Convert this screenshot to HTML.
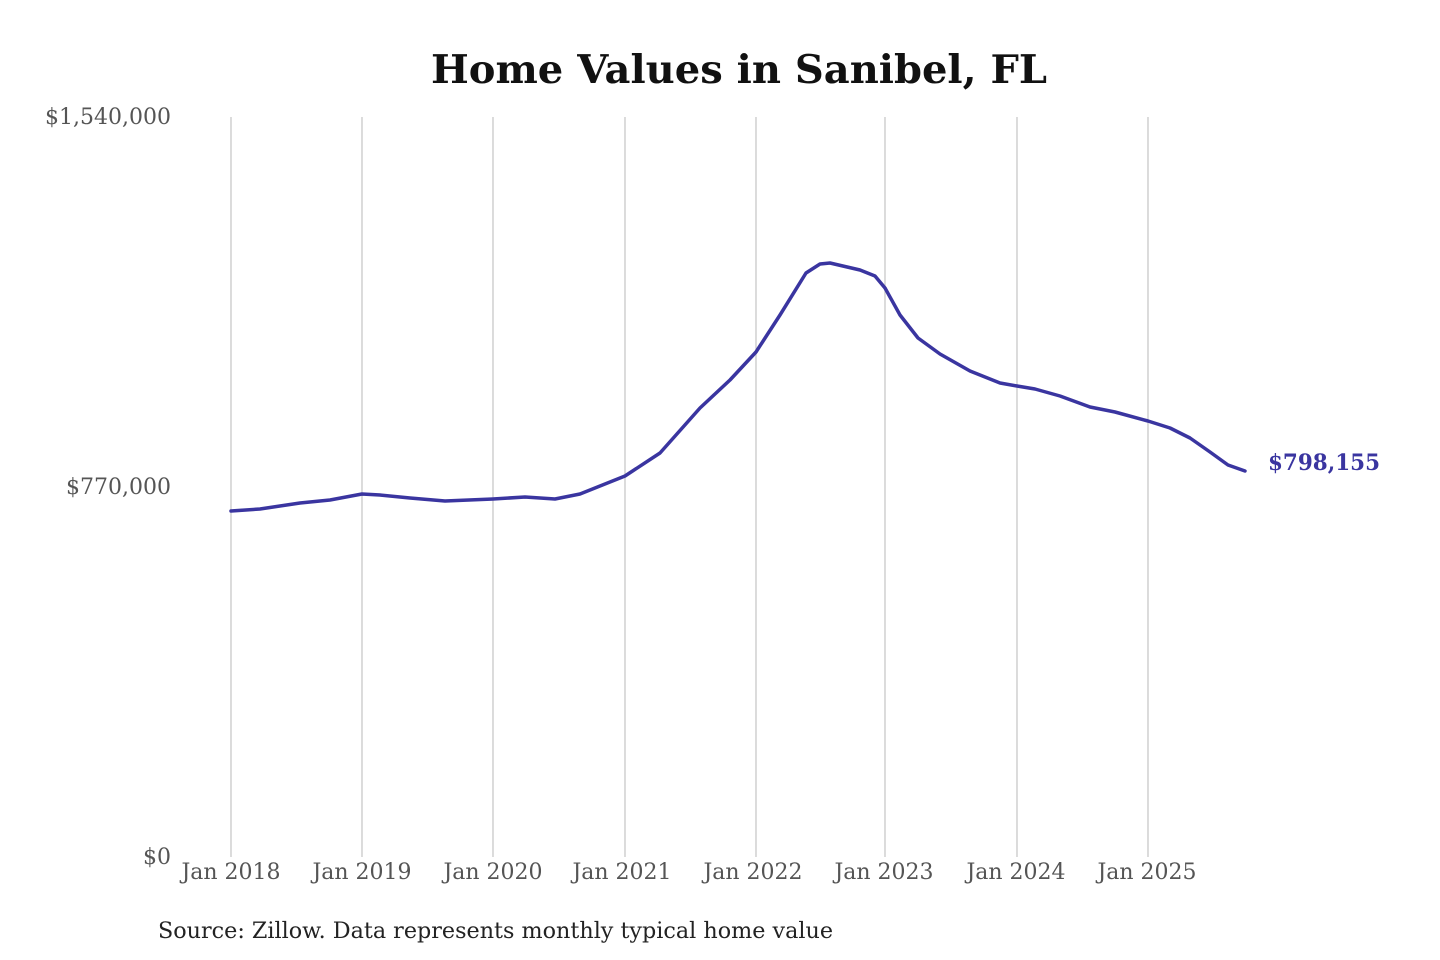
<!DOCTYPE html>
<html><head><meta charset="utf-8"><style>
html,body{margin:0;padding:0;background:#fff;width:1440px;height:960px;overflow:hidden}
</style></head><body>
<svg width="1440" height="960" viewBox="0 0 1440 960" xmlns="http://www.w3.org/2000/svg" font-family="'DejaVu Serif','Liberation Serif',serif">
<text x="431" y="83" font-size="39" font-weight="bold" fill="#111" textLength="616" lengthAdjust="spacingAndGlyphs">Home Values in Sanibel, FL</text>
<g stroke="#c8c8c8" stroke-width="1.3">
<line x1="231" y1="117" x2="231" y2="857"/><line x1="362" y1="117" x2="362" y2="857"/>
<line x1="493" y1="117" x2="493" y2="857"/><line x1="625" y1="117" x2="625" y2="857"/>
<line x1="756" y1="117" x2="756" y2="857"/><line x1="885" y1="117" x2="885" y2="857"/>
<line x1="1017" y1="117" x2="1017" y2="857"/><line x1="1148" y1="117" x2="1148" y2="857"/>
</g>
<g font-size="22" fill="#555" text-anchor="end">
<text x="171" y="124">$1,540,000</text>
<text x="171" y="494">$770,000</text>
<text x="171" y="864">$0</text>
</g>
<g font-size="22" fill="#555" text-anchor="middle">
<text x="231" y="879">Jan 2018</text><text x="362" y="879">Jan 2019</text>
<text x="493" y="879">Jan 2020</text><text x="622" y="879">Jan 2021</text>
<text x="753" y="879">Jan 2022</text><text x="884" y="879">Jan 2023</text>
<text x="1016" y="879">Jan 2024</text><text x="1147" y="879">Jan 2025</text>
</g>
<polyline fill="none" stroke="#3a35a0" stroke-width="3.5" stroke-linejoin="round" stroke-linecap="round" points="231,511 260,509 300,503 330,500 362,494 380,495 410,498 445,501 493,499 525,497 555,499 580,494 625,476 660,453 700,408 730,380 756,352 780,315 806,273 820,264 830,263 860,270 875,276 885,288 900,315 918,338 940,354 970,371 1000,383 1017,386 1035,389 1060,396 1090,407 1115,412 1148,421 1170,428 1190,438 1210,452 1228,465 1245,471"/>
<text x="1268" y="470" font-size="22" font-weight="bold" fill="#3a35a0" textLength="112" lengthAdjust="spacingAndGlyphs">$798,155</text>
<text x="158" y="938" font-size="22" fill="#222" textLength="675" lengthAdjust="spacingAndGlyphs">Source: Zillow. Data represents monthly typical home value</text>
</svg>
</body></html>
